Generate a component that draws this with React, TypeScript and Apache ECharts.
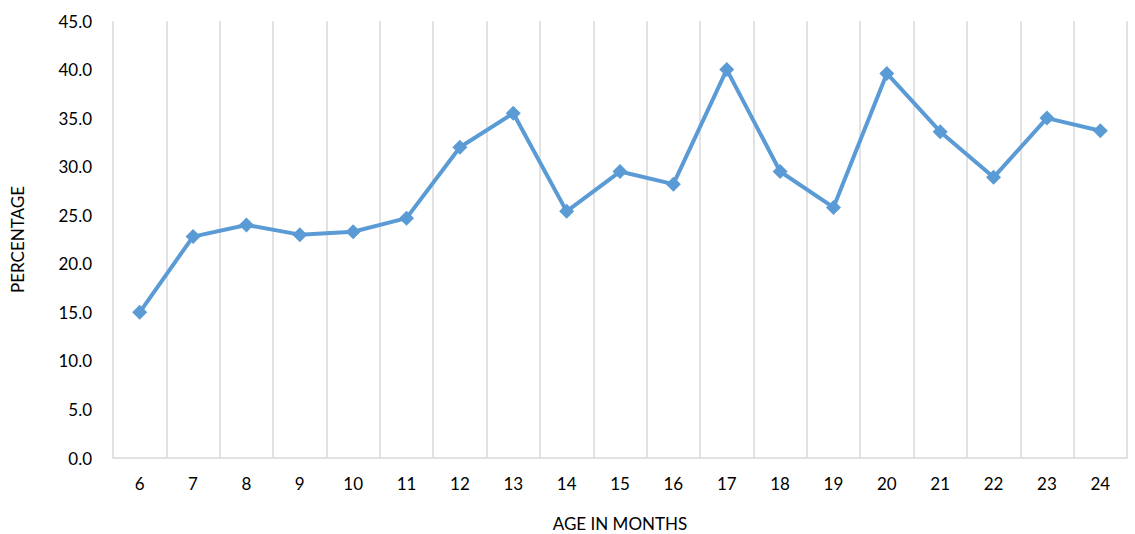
import React, { useEffect, useRef } from "react";
import * as echarts from "echarts";

const months = ["6","7","8","9","10","11","12","13","14","15","16","17","18","19","20","21","22","23","24"];
const percentage = [15.0, 22.8, 24.0, 23.0, 23.3, 24.7, 32.0, 35.5, 25.4, 29.5, 28.2, 40.0, 29.5, 25.8, 39.6, 33.6, 28.9, 35.0, 33.7];

export default function App() {
  const ref = useRef<HTMLDivElement>(null);
  useEffect(() => {
    const chart = echarts.init(ref.current!, null, { renderer: "svg" });
    const font = "Lato, 'Open Sans', sans-serif";
    chart.setOption({
      animation: false,
      grid: { left: 113, right: 8, top: 21, bottom: 76, containLabel: false, outerBoundsMode: "none" },
      xAxis: {
        type: "category",
        data: months,
        boundaryGap: true,
        name: "AGE IN MONTHS",
        nameLocation: "middle",
        nameGap: 57,
        nameTextStyle: { color: "#000", fontSize: 17, fontFamily: font },
        axisLine: { show: true, lineStyle: { color: "#d9d9d9", width: 1.5 } },
        axisTick: { show: false },
        axisLabel: { color: "#000", fontSize: 17, fontFamily: font, margin: 17, interval: 0 },
        splitLine: { show: true, interval: 0, lineStyle: { color: "#d9d9d9", width: 1.5 } },
      },
      yAxis: {
        type: "value",
        min: 0,
        max: 45,
        interval: 5,
        name: "PERCENTAGE",
        nameLocation: "middle",
        nameGap: 87,
        nameTextStyle: { color: "#000", fontSize: 17, fontFamily: font },
        axisLine: { show: false },
        axisTick: { show: false },
        axisLabel: { color: "#000", fontSize: 17, fontFamily: font, margin: 21, formatter: (v: number) => v.toFixed(1) },
        splitLine: { show: false },
      },
      series: [
        {
          type: "line",
          data: percentage,
          symbol: "diamond",
          symbolSize: 15,
          lineStyle: { color: "#5B9BD5", width: 4 },
          itemStyle: { color: "#5B9BD5" },
        },
      ],
    });
    return () => chart.dispose();
  }, []);
  return <div ref={ref} style={{ width: 1135, height: 534, position: "absolute", left: 0, top: 0, background: "#fff" }} />;
}
